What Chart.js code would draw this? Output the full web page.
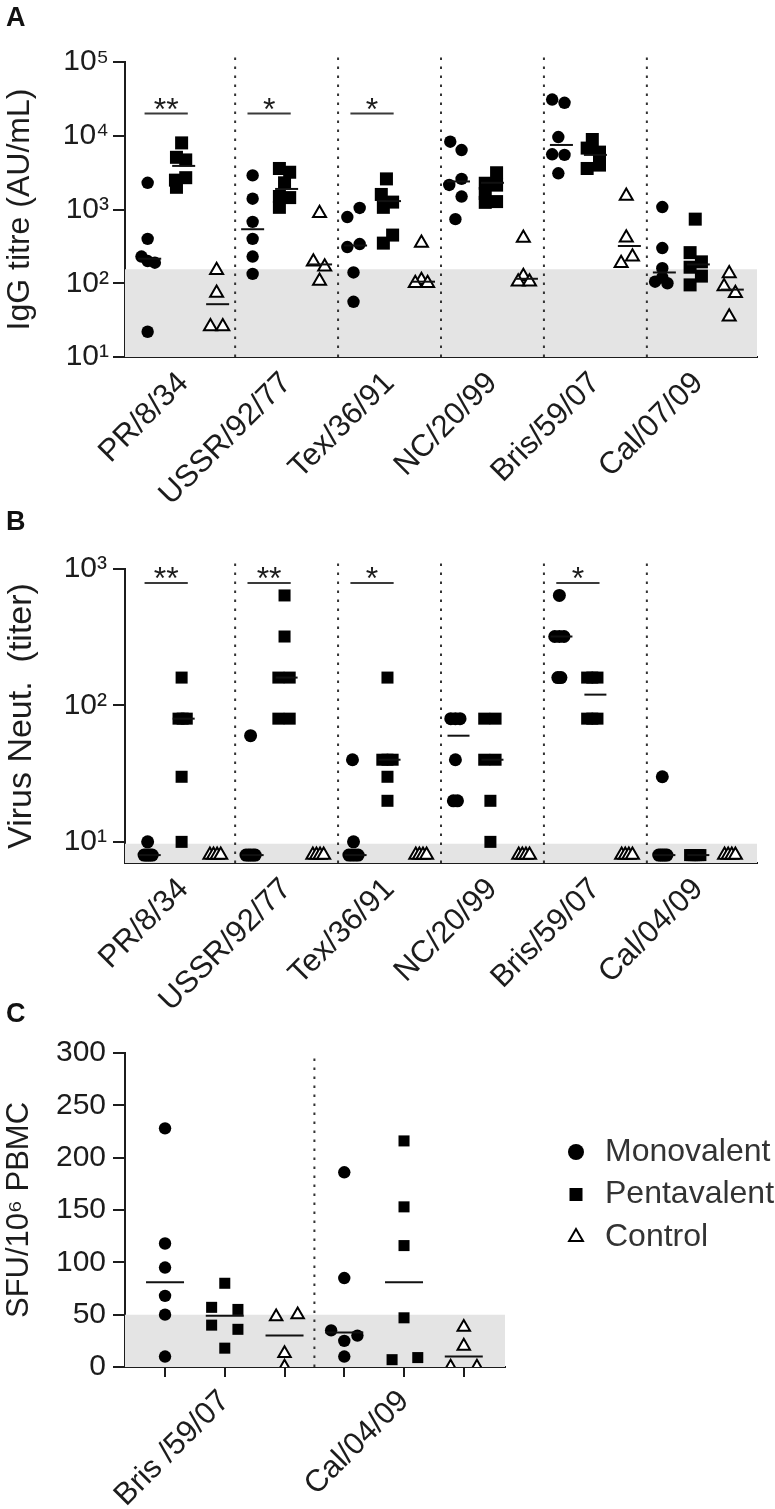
<!DOCTYPE html>
<html>
<head>
<meta charset="utf-8">
<title>Antibody and T-cell responses</title>
<script src="https://cdn.jsdelivr.net/npm/chart.js@4.4.1/dist/chart.umd.min.js"></script>
<style>
html,body{margin:0;padding:0;background:#fff;}
body{width:775px;height:1509px;position:relative;overflow:hidden;}
canvas{position:absolute;left:0;}
.panel{position:absolute;left:6px;font:bold 27px 'Liberation Sans',Arial,sans-serif;color:#111;z-index:2;line-height:30px;}
</style>
</head>
<body>
<div class="panel" style="top:2px">A</div>
<div class="panel" style="top:506px">B</div>
<div class="panel" style="top:998px">C</div>
<canvas id="chartA" width="775" height="520" style="top:0"></canvas>
<canvas id="chartB" width="775" height="520" style="top:520px"></canvas>
<canvas id="chartC" width="775" height="519" style="top:990px"></canvas>
<script>
// ---------------- Panel A : IgG titre ----------------
const iggCategories = ['PR/8/34','USSR/92/77','Tex/36/91','NC/20/99','Bris/59/07','Cal/07/09'];
const iggTickValues = [10, 100, 1000, 10000, 100000];
const iggTickLabels = ['10¹','10²','10³','10⁴','10⁵'];
const iggCutoff = 155;
const iggMono = [
  [2300, 400, 230, 200, 190, 22],
  [2900, 1400, 680, 400, 230, 134],
  [1050, 790, 340, 310, 140, 56],
  [8300, 6400, 2600, 2150, 1500, 740],
  [31000, 28000, 9600, 5600, 5500, 3100],
  [1080, 300, 160, 120, 105, 100]
];
const iggMonoDx = [
  [-0.02,-0.02,-0.08,-0.02,0.05,-0.02],
  [0,0,0,0,0,0],
  [0.04,-0.08,0.04,-0.08,-0.02,-0.02],
  [-0.08,0.03,0.03,-0.09,0.03,-0.03],
  [-0.09,0.03,-0.03,-0.09,0.03,-0.03],
  [-0.02,-0.02,-0.02,-0.02,-0.09,0.03]
];
const iggPenta = [
  [8000, 5100, 4700, 2700, 2500, 2000],
  [3600, 3200, 2300, 1500, 1450, 1070],
  [2600, 1600, 1260, 1070, 450, 350],
  [3150, 2270, 2140, 1650, 1280, 1250],
  [8900, 6800, 6000, 4800, 4000, 3600],
  [740, 260, 195, 165, 125, 95]
];
const iggPentaDx = [
  [-0.02,-0.07,0.02,0.02,-0.08,-0.07],
  [-0.07,0.03,-0.02,-0.07,0.03,-0.07],
  [-0.03,-0.08,0.03,-0.06,0.03,-0.06],
  [0.04,-0.07,0.04,-0.07,0.04,-0.07],
  [-0.03,-0.08,0.04,0.04,0.04,-0.08],
  [-0.03,-0.08,0.03,-0.08,0.03,-0.08]
];
const iggControl = [
  [150, 74, 26, 26],
  [890, 195, 167, 107],
  [350, 110, 100, 100],
  [410, 124, 105, 105],
  [1520, 415, 229, 187],
  [136, 90, 73, 35]
];
const iggControlDx = [
  [-0.01,-0.01,-0.07,0.05],
  [-0.01,-0.07,0.04,-0.01],
  [-0.02,-0.02,-0.08,0.04],
  [-0.03,-0.03,-0.08,0.03],
  [-0.03,-0.03,0.03,-0.08],
  [-0.03,-0.08,0.03,-0.03]
];
const iggMonoMedian = [215, 540, 325, 2400, 7500, 140];
const iggPentaMedian = [3900, 1900, 1300, 2300, 5500, 180];
const iggControlMedian = [52, 180, 105, 115, 320, 82];
const iggSigGroups = [0, 1, 2];
const iggSigLabels = ['**', '*', '*'];
const iggSigLevel = 20000;

// ---------------- Panel B : Virus neutralisation ----------------
const neutCategories = ['PR/8/34','USSR/92/77','Tex/36/91','NC/20/99','Bris/59/07','Cal/04/09'];
const neutTickValues = [10, 100, 1000];
const neutTickLabels = ['10¹','10²','10³'];
const neutCutoff = 9.7;
const neutMono = [
  [10, 8, 8, 8, 8, 8],
  [60, 8, 8, 8, 8, 8],
  [40, 10, 8, 8, 8, 8],
  [80, 80, 80, 40, 20, 20],
  [640, 320, 320, 320, 160, 160],
  [30, 8, 8, 8, 8, 8]
];
const neutMonoDx = [
  [-0.02,-0.055,-0.035,-0.015,0.005,0.025],
  [-0.02,-0.065,-0.04,-0.02,0.005,0.025],
  [-0.03,-0.02,-0.065,-0.035,-0.005,0.025],
  [-0.075,-0.03,0.015,-0.03,-0.05,-0.01],
  [-0.02,-0.065,-0.02,0.025,-0.035,-0.005],
  [-0.02,-0.055,-0.035,-0.015,0.005,0.025]
];
const neutPenta = [
  [160, 80, 80, 80, 30, 10],
  [640, 320, 160, 160, 80, 80],
  [160, 40, 40, 40, 30, 20],
  [80, 80, 40, 40, 20, 10],
  [160, 160, 160, 80, 80, 80],
  [8, 8, 8, 8, 8, 8]
];
const neutPentaDx = [
  [-0.02,-0.05,-0.01,0.03,-0.02,-0.02],
  [-0.02,-0.02,-0.08,0.03,-0.08,0.03],
  [-0.02,-0.07,-0.02,0.03,-0.02,-0.02],
  [-0.08,0.03,-0.08,0.03,-0.02,-0.02],
  [-0.08,-0.03,0.02,-0.08,-0.03,0.02],
  [-0.08,-0.06,-0.04,-0.02,0,0.02]
];
const neutControl = [
  [8, 8, 8, 8], [8, 8, 8, 8], [8, 8, 8, 8],
  [8, 8, 8, 8], [8, 8, 8, 8], [8, 8, 8, 8]
];
const neutControlDx = [
  [-0.075,-0.04,-0.005,0.03], [-0.075,-0.04,-0.005,0.03], [-0.075,-0.04,-0.005,0.03],
  [-0.075,-0.04,-0.005,0.03], [-0.075,-0.04,-0.005,0.03], [-0.075,-0.04,-0.005,0.03]
];
const neutMonoMedian = [8, 8, 8, 60, 320, 8];
const neutPentaMedian = [80, 160, 40, 40, 120, 8];
const neutSigGroups = [0, 1, 2, 4];
const neutSigLabels = ['**', '**', '*', '*'];
const neutSigLevel = 790;

// ---------------- Panel C : ELISpot ----------------
const sfuCategories = ['Bris /59/07', 'Cal/04/09'];
const sfuTickValues = [0, 50, 100, 150, 200, 250, 300];
const sfuCutoff = 50;
const sfuMono = [[228, 118, 95, 68, 50, 10], [186, 85, 35, 30, 25, 10]];
const sfuMonoDx = [[0,0,0,0,0,0], [0,0,-0.22,0.22,0,0]];
const sfuPenta = [[80, 57, 55, 40, 36, 18], [216, 153, 116, 47, 9, 7]];
const sfuPentaDx = [[0,-0.22,0.22,-0.22,0.22,0], [0,0,0,0,0.23,-0.2]];
const sfuControl = [[50, 48, 13, 0], [38, 20, 0, 0]];
const sfuControlDx = [[0.22,-0.14,0,0], [0,0,-0.22,0.22]];
const sfuMonoMedian = [81, 33];
const sfuPentaMedian = [49, 81];
const sfuControlMedian = [30, 10];
const seriesNames = ['Monovalent', 'Pentavalent', 'Control'];

// ---------------- helpers ----------------
const FONT = "'Liberation Sans', 'DejaVu Sans', Arial, sans-serif";
const INK = '#1c1c1c';
const BAND = '#e4e4e4';
const SHIFT = [-0.33, 0, 0.33];
const SIG_L = -0.38, SIG_R = 0.04;
const STYLE = ['circle', 'rect', 'triangle'];
const FILL = ['#000', '#000', '#fff'];

function groupedPoints(values, dx, s) {
  const out = [];
  values.forEach((grp, g) => grp.forEach((v, j) => out.push({x: g + SHIFT[s] + dx[g][j], y: v})));
  return out;
}
function groupedMedians(meds, s) {
  return meds.map((v, g) => ({x: g + SHIFT[s], y: v}));
}
function slotPoints(values, dx, s) {
  const out = [];
  values.forEach((grp, g) => grp.forEach((v, j) => out.push({x: 3 * g + s + dx[g][j], y: v})));
  return out;
}
function slotMedians(meds, s) {
  return meds.map((v, g) => ({x: 3 * g + s, y: v}));
}
function markerSet(label, data, s, radius) {
  return {
    type: 'scatter', label, data,
    pointStyle: STYLE[s], pointRadius: radius, pointHoverRadius: radius,
    pointBackgroundColor: FILL[s], pointBorderColor: '#000',
    pointBorderWidth: s === 2 ? 2 : 0, order: 3
  };
}
function medianSet(data, r) {
  return {type: 'scatter', data, pointStyle: 'line', pointRadius: r, pointHoverRadius: r,
    pointBorderColor: '#111', pointBorderWidth: 2, order: 1};
}
function bandSet(xmin, xmax, cut) {
  return {type: 'line', data: [{x: xmin, y: cut}, {x: xmax, y: cut}], fill: 'start',
    backgroundColor: BAND, borderColor: 'rgba(0,0,0,0)', borderWidth: 1, pointRadius: 0, order: 20};
}
function dividerSets(positions, lo, hi) {
  return positions.map(b => ({type: 'line', data: [{x: b, y: lo}, {x: b, y: hi}],
    borderColor: '#333', borderWidth: 2, borderDash: [2.5, 6.5], pointRadius: 0, clip: false, order: 15}));
}
function sigSets(groups, level) {
  return groups.map(g => ({type: 'line', data: [{x: g + SIG_L, y: level}, {x: g + SIG_R, y: level}],
    borderColor: '#3a3a3a', borderWidth: 2, pointRadius: 0, order: 0}));
}
const sigPlugin = {
  id: 'sigText',
  afterDatasetsDraw(chart, args, opts) {
    if (!opts || !opts.groups) return;
    const ctx = chart.ctx, xs = chart.scales.x, ys = chart.scales.y;
    ctx.save();
    ctx.fillStyle = INK; ctx.font = '32px ' + FONT;
    ctx.textAlign = 'center'; ctx.textBaseline = 'alphabetic';
    opts.groups.forEach((g, i) => {
      ctx.fillText(opts.labels[i], xs.getPixelForValue(g + (SIG_L + SIG_R) / 2), ys.getPixelForValue(opts.level) + 6);
    });
    ctx.restore();
  }
};
const legendPlugin = {
  id: 'seriesLegend',
  afterDraw(chart, args, opts) {
    if (!opts || !opts.show) return;
    const ctx = chart.ctx;
    const radii = [8, 9.2, 8];
    ctx.save();
    seriesNames.forEach((name, i) => {
      const y = 162 + i * 42.5;
      ctx.fillStyle = FILL[i]; ctx.strokeStyle = '#000'; ctx.lineWidth = 2;
      Chart.helpers.drawPoint(ctx, {pointStyle: STYLE[i], radius: radii[i], rotation: 0,
        borderWidth: i === 2 ? 2 : 0}, 576, y);
      ctx.fillStyle = '#333'; ctx.font = '32px ' + FONT;
      ctx.textAlign = 'left'; ctx.textBaseline = 'middle';
      ctx.fillText(name, 605, y);
    });
    ctx.restore();
  }
};
function yAxis(type, min, max, values, labels, title, pad, titleSize) {
  return {
    type, min, max,
    afterBuildTicks: s => { s.ticks = values.map(v => ({value: v})); },
    afterFit: s => { s.width = 125; },
    grid: {display: true, drawOnChartArea: false, drawTicks: true, tickLength: 12, color: INK, lineWidth: 2},
    border: {display: true, color: INK, width: 2},
    ticks: {padding: pad, color: INK, font: {family: FONT, size: 30},
      callback: (v, i) => labels[i]},
    title: {display: true, text: title, color: INK, font: {family: FONT, size: titleSize}, padding: {top: 1, bottom: 0}}
  };
}
function baseOptions(padTop, padRight, scales, plugins) {
  return {
    responsive: false, animation: false, events: [],
    layout: {padding: {top: padTop, right: padRight, left: 0, bottom: 0}},
    scales,
    plugins: Object.assign({legend: {display: false}, tooltip: {enabled: false}}, plugins)
  };
}
function groupedXAxis(cats, height) {
  return {
    type: 'linear', min: -0.57, max: 5.57,
    afterBuildTicks: s => { s.ticks = cats.map((c, i) => ({value: i})); },
    afterFit: s => { s.height = height; },
    grid: {display: false, drawTicks: false},
    border: {display: true, color: INK, width: 2},
    ticks: {autoSkip: false, minRotation: 45, maxRotation: 45, padding: 8, color: INK,
      font: {family: FONT, size: 31}, callback: (v, i) => cats[i]}
  };
}
const boundaries = cats => cats.slice(1).map((c, i) => i + 0.5);

// ---------------- Chart A ----------------
new Chart(document.getElementById('chartA'), {
  type: 'scatter',
  data: {datasets: [
    bandSet(-0.57, 5.57, iggCutoff),
    ...dividerSets(boundaries(iggCategories), 10, 124000),
    markerSet('Monovalent', groupedPoints(iggMono, iggMonoDx, 0), 0, 6.2),
    markerSet('Pentavalent', groupedPoints(iggPenta, iggPentaDx, 1), 1, 9.2),
    markerSet('Control', groupedPoints(iggControl, iggControlDx, 2), 2, 7.5),
    medianSet(groupedMedians(iggMonoMedian, 0), 11.5),
    medianSet(groupedMedians(iggPentaMedian, 1), 11.5),
    medianSet(groupedMedians(iggControlMedian, 2), 11.5),
    ...sigSets(iggSigGroups, iggSigLevel)
  ]},
  options: baseOptions(62, 18, {
    x: groupedXAxis(iggCategories, 163),
    y: yAxis('logarithmic', 10, 100000, iggTickValues, iggTickLabels, 'IgG titre (AU/mL)', 4, 32)
  }, {sigText: {groups: iggSigGroups, labels: iggSigLabels, level: iggSigLevel}}),
  plugins: [sigPlugin]
});

// ---------------- Chart B ----------------
new Chart(document.getElementById('chartB'), {
  type: 'scatter',
  data: {datasets: [
    bandSet(-0.57, 5.57, neutCutoff),
    ...dividerSets(boundaries(neutCategories), 7, 1160),
    markerSet('Monovalent', groupedPoints(neutMono, neutMonoDx, 0), 0, 6.5),
    markerSet('Pentavalent', groupedPoints(neutPenta, neutPentaDx, 1), 1, 8.5),
    markerSet('Control', groupedPoints(neutControl, neutControlDx, 2), 2, 7.5),
    medianSet(groupedMedians(neutMonoMedian, 0), 11),
    medianSet(groupedMedians(neutPentaMedian, 1), 11),
    ...sigSets(neutSigGroups, neutSigLevel)
  ]},
  options: baseOptions(49, 18, {
    x: groupedXAxis(neutCategories, 177),
    y: yAxis('logarithmic', 7, 1000, neutTickValues, neutTickLabels, 'Virus Neut.  (titer)', 6, 34)
  }, {sigText: {groups: neutSigGroups, labels: neutSigLabels, level: neutSigLevel}}),
  plugins: [sigPlugin]
});

// ---------------- Chart C ----------------
new Chart(document.getElementById('chartC'), {
  type: 'scatter',
  data: {datasets: [
    bandSet(-0.67, 5.69, sfuCutoff),
    ...dividerSets(sfuCategories.slice(1).map((c, i) => 3 * (i + 1) - 0.5), 0, 300),
    markerSet('Monovalent', slotPoints(sfuMono, sfuMonoDx, 0), 0, 6.2),
    markerSet('Pentavalent', slotPoints(sfuPenta, sfuPentaDx, 1), 1, 7.8),
    markerSet('Control', slotPoints(sfuControl, sfuControlDx, 2), 2, 7.2),
    medianSet(slotMedians(sfuMonoMedian, 0), 19),
    medianSet(slotMedians(sfuPentaMedian, 1), 19),
    medianSet(slotMedians(sfuControlMedian, 2), 19)
  ]},
  options: baseOptions(63, 270, {
    x: {
      type: 'linear', min: -0.67, max: 5.69,
      afterBuildTicks: s => { s.ticks = [0, 1, 2, 3, 4, 5].map(v => ({value: v})); },
      afterFit: s => { s.height = 142; },
      grid: {display: true, drawOnChartArea: false, drawTicks: true, tickLength: 10, color: INK, lineWidth: 2},
      border: {display: true, color: INK, width: 2},
      ticks: {autoSkip: false, minRotation: 45, maxRotation: 45, padding: 6, color: INK,
        font: {family: FONT, size: 31},
        callback: (v, i) => (i % 3 === 1 ? sfuCategories[(i - 1) / 3] : '')}
    },
    y: yAxis('linear', 0, 300, sfuTickValues, sfuTickValues.map(String), 'SFU/10⁶ PBMC', 7, 31)
  }, {seriesLegend: {show: true}}),
  plugins: [legendPlugin]
});
</script>
</body>
</html>
